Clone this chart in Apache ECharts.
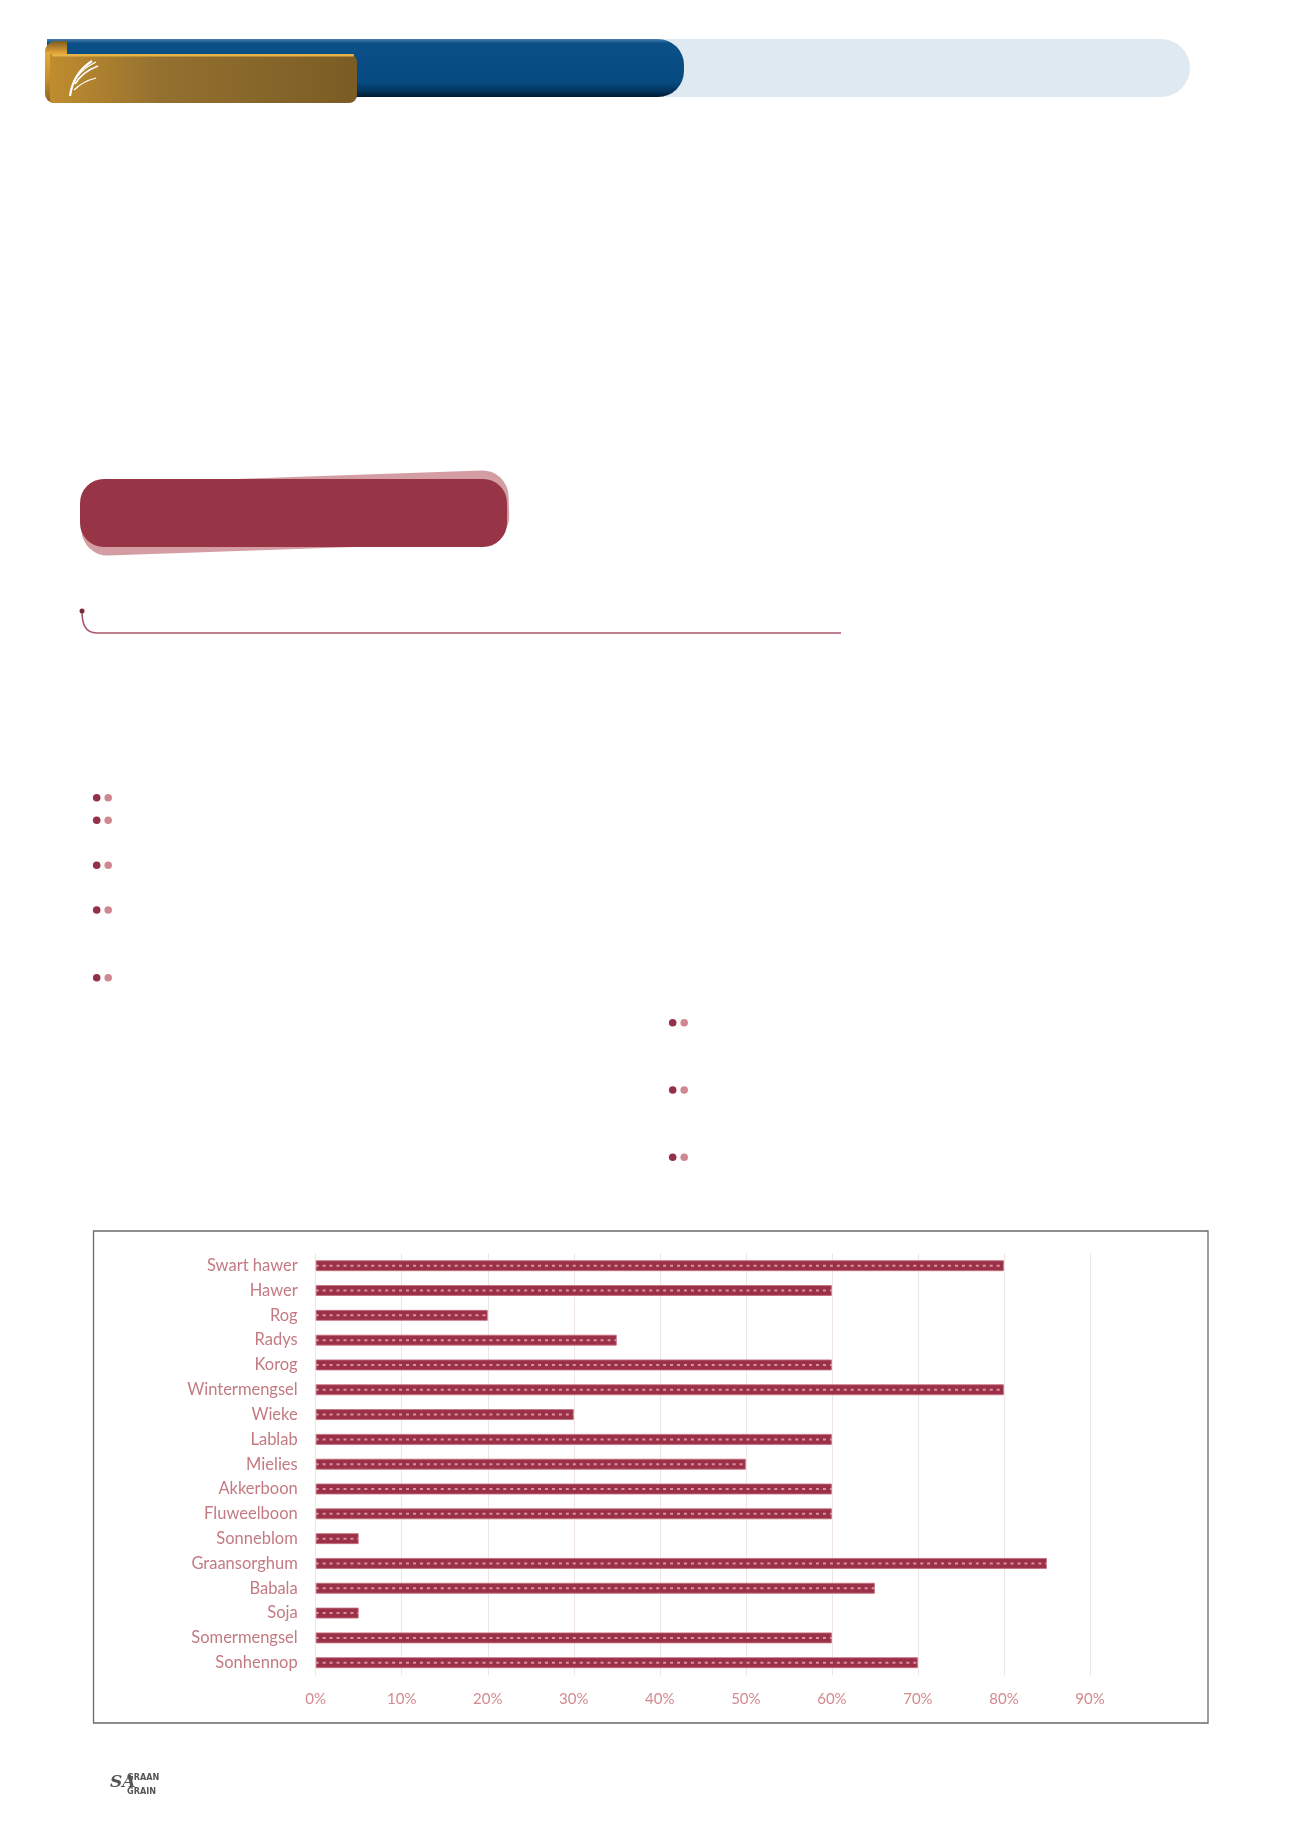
<!DOCTYPE html>
<html><head><meta charset="utf-8">
<script src="https://cdn.jsdelivr.net/npm/echarts@6/dist/echarts.min.js"></script>
<style>html,body{margin:0;padding:0;background:#fff}#c{width:1300px;height:1839px}</style>
</head><body><div id="c"></div>
<script>
const categories = ['Swart hawer','Hawer','Rog','Radys','Korog','Wintermengsel','Wieke','Lablab','Mielies','Akkerboon','Fluweelboon','Sonneblom','Graansorghum','Babala','Soja','Somermengsel','Sonhennop'];
const shares = [80, 60, 20, 35, 60, 80, 30, 60, 50, 60, 60, 5, 85, 65, 5, 60, 70];
const tickLabels = ['0%','10%','20%','30%','40%','50%','60%','70%','80%','90%'];

const dark = '#94304a', light = '#d08890';
function dots(x, ys) {
  const out = [];
  ys.forEach(y => {
    out.push({type:'circle', shape:{cx:x, cy:y, r:3.8}, style:{fill:dark}, silent:true});
    out.push({type:'circle', shape:{cx:x+11.5, cy:y, r:3.8}, style:{fill:light}, silent:true});
  });
  return out;
}
function curve(x1,y1,c1x,c1y,c2x,c2y,x2,y2,w,col){
  return {type:'bezierCurve', shape:{x1:x1,y1:y1,cpx1:c1x,cpy1:c1y,cpx2:c2x,cpy2:c2y,x2:x2,y2:y2},
    style:{stroke:col, lineWidth:w, fill:null}, silent:true};
}

const elements = [
  {type:'rect', shape:{x:560, y:39, width:630, height:58, r:[0,29,29,0]}, style:{fill:'#dfe9f2'}, silent:true},
  {type:'rect', shape:{x:47, y:39, width:637, height:58, r:[0,26,26,0]}, silent:true,
   style:{fill:new echarts.graphic.LinearGradient(0,0,0,1,[
     {offset:0, color:'#4a80b0'},{offset:0.07, color:'#0c5088'},{offset:0.75, color:'#054a80'},
     {offset:0.9, color:'#03345c'},{offset:1, color:'#011a30'}])}},
  {type:'rect', shape:{x:45, y:41, width:22, height:62, r:[11,0,0,9]}, silent:true,
   style:{fill:new echarts.graphic.LinearGradient(0,0,0,1,[
     {offset:0, color:'#7a5a22'},{offset:0.2, color:'#e8a838'},{offset:0.6, color:'#c8902c'},{offset:1, color:'#8a6424'}])}},
  {type:'rect', shape:{x:50, y:54, width:307, height:49, r:[0,8,8,4]}, silent:true,
   style:{fill:new echarts.graphic.LinearGradient(0,0,1,0,[
     {offset:0, color:'#c08d2e'},{offset:0.35, color:'#957130'},{offset:1, color:'#7a5c24'}])}},
  {type:'rect', shape:{x:52, y:54, width:302, height:2.5, r:1}, style:{fill:'#e6b24a'}, silent:true},
  curve(70,96, 72,82, 78,70, 92,61, 2.2,'#fff'),
  curve(75,84, 80,76, 87,70, 98,66, 1.6,'#fff'),
  curve(78,76, 82,70, 88,66, 96,62, 1.3,'#fff'),
  curve(74,90, 80,84, 88,80, 96,78, 1.2,'#fff'),
  {type:'rect', x:295, y:513, rotation:0.035, shape:{x:-214, y:-36, width:428, height:72, r:26}, style:{fill:'#d49ca3'}, silent:true},
  {type:'rect', shape:{x:80, y:479, width:427, height:68, r:24}, style:{fill:'#973446'}, silent:true},
  curve(82,611, 82,622, 84,633, 97,633, 1.6,'#a9586a'),
  {type:'line', shape:{x1:97, y1:633, x2:841, y2:633}, style:{stroke:'#a9586a', lineWidth:1.6}, silent:true},
  {type:'circle', shape:{cx:82, cy:611, r:2.5}, style:{fill:'#7a2a3c'}, silent:true},
  {type:'rect', shape:{x:93.5, y:1231, width:1114.5, height:492}, style:{fill:null, stroke:'#6a6a6a', lineWidth:1.3}, silent:true},
  {type:'text', x:110, y:1783, style:{text:'SA', font:'italic bold 17px "DejaVu Serif"', fill:'#555', verticalAlign:'middle'}, silent:true},
  {type:'text', x:127, y:1778, style:{text:'GRAAN', font:'bold 9px "Liberation Sans Narrow", "DejaVu Sans Condensed"', fill:'#555', verticalAlign:'middle'}, silent:true},
  {type:'text', x:127, y:1792, style:{text:'GRAIN', font:'bold 9px "Liberation Sans Narrow", "DejaVu Sans Condensed"', fill:'#555', verticalAlign:'middle'}, silent:true}
].concat(dots(96.7, [797.7, 820.3, 865.3, 910, 977.7])).concat(dots(672.7, [1022.7, 1090, 1157.3]));

const chart = echarts.init(document.getElementById('c'), null, {renderer:'canvas'});
chart.setOption({
  backgroundColor:'#fff',
  animation:false,
  graphic:{elements:elements},
  grid:{left:315.7, top:1253.3, width:774.3, height:421.8, containLabel:false},
  xAxis:{type:'value', min:0, max:90, interval:10,
    axisLine:{show:false}, axisTick:{show:false},
    splitLine:{show:true, lineStyle:{color:'#efe4e4', width:1}},
    axisLabel:{margin:17, color:'#d4898e', fontFamily:'Lato', fontSize:15,
      formatter:v => tickLabels[Math.round(v/10)]}},
  yAxis:{type:'category', data:categories, inverse:true,
    axisLine:{show:false}, axisTick:{show:false}, splitLine:{show:false},
    axisLabel:{margin:18, color:'#c47a82', fontFamily:'Lato', fontSize:16.5}},
  series:[
    {type:'bar', data:shares, barWidth:11,
     itemStyle:{color:'#9b3148', borderColor:'rgba(196,110,126,0.85)', borderWidth:1}, z:2},
    {type:'pictorialBar', data:shares, symbol:'rect', symbolSize:[3,2], symbolRepeat:true, symbolMargin:2,
     symbolClip:true, itemStyle:{color:'rgba(232,170,180,0.8)'}, z:3, silent:true}
  ]
});
</script></body></html>
